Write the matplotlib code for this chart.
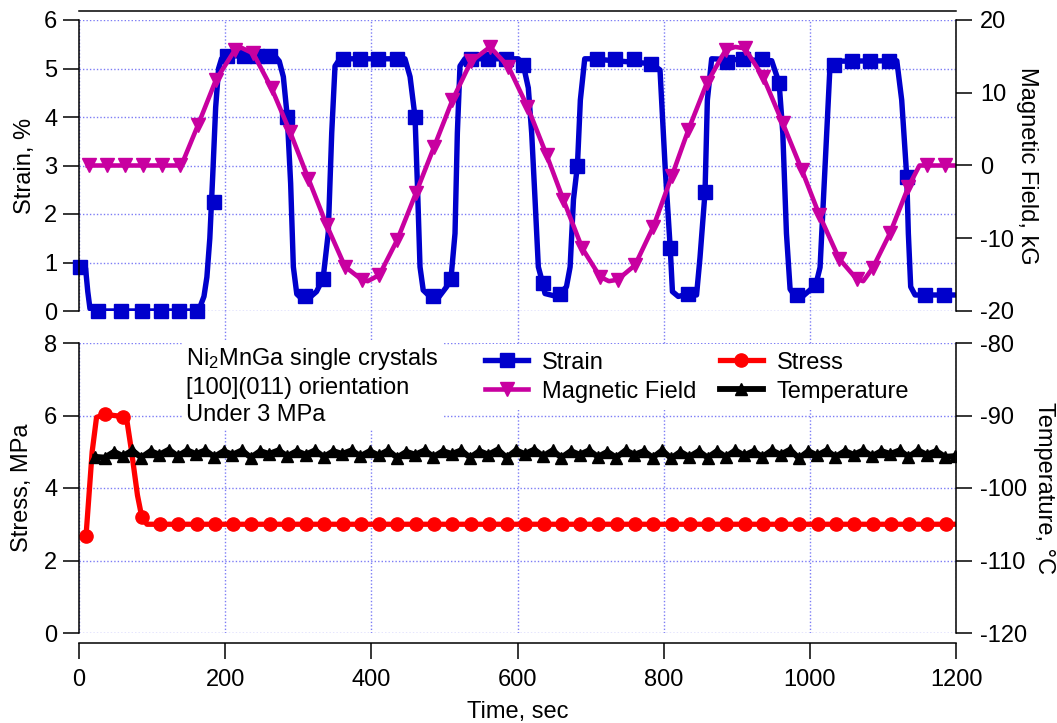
#!/usr/bin/env python3
"""
Ni2MnGa strain / field / stress / temperature vs time
"""
import matplotlib
matplotlib.use('Agg')
import matplotlib.pyplot as plt
from matplotlib.lines import Line2D

# ---- data ----
# strain (%) : line and square markers
strain_t = [2, 9, 12, 15, 20, 160, 166, 171, 175, 179, 183, 187, 191, 195, 200,
            268, 274, 279.6, 285, 289.6, 293.3, 298, 305, 315, 325, 334, 341,
            345.8, 350.3, 357, 446, 453, 459.8, 463, 466.6, 471, 480, 493, 503,
            509, 514.5, 517.7, 521.3, 528, 601, 608, 614.8, 619.4, 624, 628.5,
            634.5, 637.6, 653.6, 658, 667, 672, 676.6, 682, 686, 692, 700, 783,
            795, 802, 809, 812, 820, 833, 845, 849.7, 856.6, 859.8, 865.7, 947.8,
            958, 963, 968, 973, 980, 990, 1000, 1008, 1014, 1020.8, 1027.6, 1031,
            1119, 1125.7, 1132.6, 1134.8, 1138, 1144, 1199]
strain_v = [0.9, 0.88, 0.4, 0.05, 0.0, 0.0, 0.1, 0.3, 0.7, 1.5, 2.8, 4.2, 5.0, 5.2, 5.26,
            5.26, 5.15, 4.83, 4.0, 2.63, 0.91, 0.35, 0.25, 0.27, 0.4, 0.67, 1.6,
            3.67, 5.05, 5.2, 5.2, 4.83, 4.0, 2.63, 0.91, 0.43, 0.3, 0.3, 0.5,
            0.67, 1.6, 3.67, 5.05, 5.2, 5.2, 5.07, 4.6, 3.67, 2.3, 0.91,
            0.57, 0.36, 0.3, 0.36, 0.5, 0.91, 2.3, 3.0, 4.35, 5.2, 5.2, 5.1,
            4.97, 2.97, 1.29, 0.4, 0.3, 0.35, 0.33, 1.1, 2.45, 4.35, 5.2, 5.16,
            4.7, 3.67, 1.6, 0.45, 0.3, 0.3, 0.43, 0.53, 0.9, 2.97, 5.05, 5.15,
            5.16, 4.35, 2.77, 1.6, 0.5, 0.33, 0.33]
strain_mt = [2, 25.5, 57, 86, 112, 137, 161, 185, 202, 226, 244, 261, 285, 309, 334,
             361, 384.5, 408.7, 434.7, 459.8, 484, 509, 536, 560, 584, 608, 634.5,
             658, 682, 709, 734, 759, 783, 809, 833, 856.6, 886, 909, 934, 958, 983,
             1008, 1033, 1058, 1083, 1108, 1132.6, 1157.6, 1183.6]
strain_mv = [0.9, 0.0, 0.0, 0.0, 0.0, 0.0, 0.0, 2.25, 5.25, 5.25, 5.25, 5.25, 4.0, 0.3, 0.67,
             5.2, 5.2, 5.2, 5.2, 4.0, 0.3, 0.67, 5.2, 5.2, 5.2, 5.07, 0.57,
             0.36, 3.0, 5.2, 5.2, 5.2, 5.1, 1.29, 0.35, 2.45, 5.14, 5.2, 5.2, 4.7, 0.33,
             0.53, 5.07, 5.16, 5.16, 5.16, 2.77, 0.33, 0.33]

# magnetic field (kG) : line and down-triangle markers
field_t = [12, 140, 163, 187.5, 213.5, 222, 238.5, 263.6, 288.7, 313.8, 338.9, 364,
           387, 395, 411, 435.6, 461, 486, 511, 536.4, 562.4, 587.5, 613.5, 640,
           662.7, 688.7, 713, 725, 737, 760.8, 785.9, 811, 833.8, 859, 885, 898,
           911, 936, 963, 989, 1013, 1040, 1064, 1073, 1086, 1109.7, 1135, 1150, 1199]
field_v = [0.0, 0.0, 5.6, 11.8, 15.9, 16.2, 15.4, 10.6, 4.65, -1.8, -8.2, -13.9,
           -15.7, -15.9, -15.05, -10.2, -3.8, 2.6, 9.0, 14.3, 16.3, 13.6, 8.1, 1.4,
           -4.7, -11.4, -15.3, -15.9, -15.7, -13.7, -8.4, -1.5, 4.9, 11.3, 15.9, 16.3,
           16.1, 12.2, 5.8, -0.6, -6.8, -12.8, -15.6, -15.9, -14.1, -9.3, -2.9, 0.0, 0.0]
field_mt = [13, 38, 63, 88, 113, 138, 163, 187.5, 213.5, 238.5, 263.6, 288.7, 313.8,
            338.9, 364, 387, 411, 435.6, 461, 486, 511, 536.4, 562.4, 587.5, 613.5,
            640, 662.7, 688.7, 713, 737, 760.8, 785.9, 811, 833.8, 859, 885, 911,
            936, 963, 989, 1013, 1040, 1064, 1086, 1109.7, 1135, 1160, 1185]
field_mv = [0.0, 0.0, 0.0, 0.0, 0.0, 0.0, 5.6, 11.8, 15.9, 15.4, 10.6, 4.65, -1.8,
            -8.2, -13.9, -15.7, -15.05, -10.2, -3.8, 2.6, 9.0, 14.3, 16.3, 13.6, 8.1,
            1.4, -4.7, -11.4, -15.3, -15.7, -13.7, -8.4, -1.5, 4.9, 11.3, 15.9, 16.1,
            12.2, 5.8, -0.6, -6.8, -12.8, -15.6, -14.1, -9.3, -2.9, 0.1, 0.1]

# stress (MPa) : line and circle markers
stress_t = [9.6, 18, 24, 35.6, 48, 60.7, 66, 72, 80, 85.8, 93, 1200]
stress_v = [2.68, 5.0, 5.95, 6.03, 6.0, 5.97, 5.8, 5.0, 3.8, 3.21, 3.0, 3.0]
stress_mt = [9.6, 35.6, 60.7, 85.8, 110.8, 135.8, 160.8, 185.8, 210.8, 235.8, 260.8,
             285.8, 310.8, 335.8, 360.8, 385.8, 410.8, 435.8, 460.8, 485.8, 510.8,
             535.8, 560.8, 585.8, 610.8, 635.8, 660.8, 685.8, 710.8, 735.8, 760.8,
             785.8, 810.8, 835.8, 860.8, 885.8, 910.8, 935.8, 960.8, 985.8, 1010.8,
             1035.8, 1060.8, 1085.8, 1110.8, 1135.8, 1160.8, 1185.8]
stress_mv = [2.68, 6.03, 5.97, 3.21, 3.0, 3.0, 3.0, 3.0, 3.0, 3.0, 3.0,
             3.0, 3.0, 3.0, 3.0, 3.0, 3.0, 3.0, 3.0, 3.0, 3.0,
             3.0, 3.0, 3.0, 3.0, 3.0, 3.0, 3.0, 3.0, 3.0, 3.0,
             3.0, 3.0, 3.0, 3.0, 3.0, 3.0, 3.0, 3.0, 3.0, 3.0,
             3.0, 3.0, 3.0, 3.0, 3.0, 3.0, 3.0]

# temperature (C) : line with up-triangle markers
temp_t = [22, 35, 48, 60, 73, 85, 98, 110, 123, 135, 148, 160, 173, 185, 198, 210,
          223, 235, 248, 260, 273, 285, 298, 310, 323, 335, 348, 360, 373, 385, 398,
          410, 423, 435, 448, 460, 473, 485, 498, 510, 523, 535, 548, 560, 573, 585,
          598, 610, 623, 635, 648, 660, 673, 685, 698, 710, 723, 735, 748, 760, 773,
          785, 798, 810, 823, 835, 848, 860, 873, 885, 898, 910, 923, 935, 948, 960,
          973, 985, 998, 1010, 1023, 1035, 1048, 1060, 1073, 1085, 1098, 1110, 1123,
          1135, 1148, 1160, 1173, 1185, 1198]
temp_v = [-95.7, -95.8, -95.0, -95.6, -94.8, -95.8, -94.9, -95.4, -94.7, -95.6, -94.8,
          -95.3, -94.8, -95.7, -94.9, -95.4, -94.8, -95.8, -94.9, -95.3, -94.8, -95.6,
          -94.9, -95.4, -94.8, -95.7, -94.9, -95.3, -94.8, -95.6, -94.9, -95.5, -94.8,
          -95.8, -95.0, -95.4, -94.8, -95.7, -94.9, -95.3, -94.8, -95.8, -94.9, -95.4,
          -94.7, -95.8, -94.8, -95.3, -94.7, -95.6, -94.8, -95.8, -94.9, -95.4, -94.8,
          -95.7, -95.0, -95.8, -94.8, -95.4, -94.9, -95.8, -94.8, -95.9, -95.0, -95.7,
          -94.9, -95.8, -94.9, -95.7, -94.8, -95.5, -94.9, -95.7, -94.8, -95.4, -94.7,
          -95.9, -94.9, -95.5, -94.8, -95.7, -94.9, -95.4, -94.8, -95.6, -94.9, -95.3,
          -94.8, -95.7, -94.8, -95.4, -94.9, -95.7, -95.6]

note_lines = ['Ni$_2$MnGa single crystals', '[100](011) orientation', 'Under 3 MPa']

BLUE = '#0000cc'
MAGENTA = '#c800a0'
RED = '#ff0000'
GRID = '#7c7cf5'


def format_plotting():
    plt.rcParams['font.family'] = ['Liberation Sans', 'DejaVu Sans']
    plt.rcParams['font.size'] = 17
    plt.rcParams['axes.unicode_minus'] = False
    plt.rcParams['mathtext.fontset'] = 'custom'
    plt.rcParams['mathtext.rm'] = 'Liberation Sans'
    plt.rcParams['mathtext.it'] = 'Liberation Sans:italic'
    plt.rcParams['axes.linewidth'] = 1.1
    plt.rcParams['xtick.major.size'] = 11.5
    plt.rcParams['ytick.major.size'] = 11.5
    plt.rcParams['xtick.major.width'] = 1.1
    plt.rcParams['ytick.major.width'] = 1.1


def style_grid(ax):
    ax.grid(True, color=GRID, linestyle=(0, (1, 1.5)), linewidth=1.0)
    ax.set_axisbelow(True)


def main():
    format_plotting()
    W, H = 1057, 723
    fig = plt.figure(figsize=(W / 100, H / 100), dpi=100)

    left = 79 / W
    width = 877 / W
    ax1 = fig.add_axes([left, (H - 311) / H, width, 291 / H])
    ax2 = fig.add_axes([left, (H - 633) / H, width, 290 / H])
    ax1r = ax1.twinx()
    ax2r = ax2.twinx()

    # --- top panel: strain and magnetic field ---
    ax1.plot(strain_t, strain_v, color=BLUE, lw=3.9, solid_capstyle='round',
             solid_joinstyle='round')
    ax1.plot(strain_mt, strain_mv, ls='none', marker='s', ms=9.5, color=BLUE,
             clip_on=False)
    ax1r.plot(field_t, field_v, color=MAGENTA, lw=3.3, solid_joinstyle='round')
    ax1r.plot(field_mt, field_mv, ls='none', marker='v', ms=10, color=MAGENTA)

    ax1.set_xlim(0, 1200)
    ax1.set_ylim(0, 6)
    ax1r.set_ylim(-20, 20)
    ax1.set_xticks(range(0, 1201, 200))
    ax1.set_yticks(range(0, 7))
    ax1r.set_yticks([-20, -10, 0, 10, 20])
    ax1.tick_params(axis='x', bottom=False, labelbottom=False)
    ax1.tick_params(axis='y', pad=4)
    ax1r.tick_params(axis='y', pad=6)
    style_grid(ax1)
    ax1.spines['bottom'].set_visible(False)
    ax1.spines['right'].set_visible(False)
    ax1.spines['top'].set_position(('outward', 6.5))
    for s in ('top', 'bottom', 'left'):
        ax1r.spines[s].set_visible(False)
    ax1.set_ylabel('Strain, %')
    ax1r.set_ylabel('Magnetic Field, kG', rotation=270)

    # --- bottom panel: stress and temperature ---
    ax2.plot(stress_t, stress_v, color=RED, lw=3.8, solid_joinstyle='round')
    ax2.plot(stress_mt, stress_mv, ls='none', marker='o', ms=9.5, color=RED)
    ax2r.plot(temp_t, temp_v, color='black', lw=4.2, marker='^', ms=8)

    ax2.set_xlim(0, 1200)
    ax2.set_ylim(0, 8)
    ax2r.set_ylim(-120, -80)
    ax2.set_xticks(range(0, 1201, 200))
    ax2.set_yticks([0, 2, 4, 6, 8])
    ax2r.set_yticks([-120, -110, -100, -90, -80])
    ax2.tick_params(axis='x', pad=7)
    ax2.tick_params(axis='y', pad=4)
    ax2r.tick_params(axis='y', pad=6)
    style_grid(ax2)
    ax2.spines['top'].set_visible(False)
    ax2.spines['right'].set_visible(False)
    ax2.spines['bottom'].set_position(('outward', 7.2))
    for s in ('top', 'bottom', 'left'):
        ax2r.spines[s].set_visible(False)
    ax2.set_ylabel('Stress, MPa')
    ax2r.set_ylabel('Temperature, °C', rotation=270)
    ax2.set_xlabel('Time, sec')

    # vertical grid lines run through the gap between the panels
    for xg in range(200, 1001, 200):
        ax2.axvline(xg, 1.0, 1.0 + 32 / 290, clip_on=False, color=GRID,
                    linestyle=(0, (1, 1.5)), linewidth=1.0)

    # label placement (axes fraction)
    for ax, xf in ((ax1, -0.0616), (ax2, -0.065)):
        ax.yaxis.set_label_coords(xf, 0.5)
        ax.yaxis.label.set_va('center')
    for ax, xf in ((ax1r, 1.081), (ax2r, 1.100)):
        ax.yaxis.set_label_coords(xf, 0.5)
        ax.yaxis.label.set_va('center')
    ax2.xaxis.set_label_coords(0.5, -0.272)
    ax2.xaxis.label.set_va('center')

    # annotation and legend
    ax2r.text(0.122, 0.99, '\n'.join(note_lines), transform=ax2r.transAxes,
              ha='left', va='top', linespacing=1.3,
              bbox=dict(facecolor='white', edgecolor='none', pad=3))
    handles = [
        Line2D([], [], color=BLUE, lw=3.9, marker='s', ms=9.5),
        Line2D([], [], color=MAGENTA, lw=3.3, marker='v', ms=10),
        Line2D([], [], color=RED, lw=3.8, marker='o', ms=9.5),
        Line2D([], [], color='black', lw=4.2, marker='^', ms=9),
    ]
    labels = ['Strain', 'Magnetic Field', 'Stress', 'Temperature']
    leg = ax2r.legend(handles, labels, ncol=2, loc='upper left',
                      bbox_to_anchor=(0.455, 0.995), borderaxespad=0,
                      borderpad=0.3, handlelength=1.82, handletextpad=0.58,
                      columnspacing=1.0, labelspacing=0.3, frameon=True,
                      fancybox=False, framealpha=1)
    leg.get_frame().set_facecolor('white')
    leg.get_frame().set_edgecolor('none')

    fig.savefig('out.png', dpi=100)


if __name__ == "__main__":
    main()
